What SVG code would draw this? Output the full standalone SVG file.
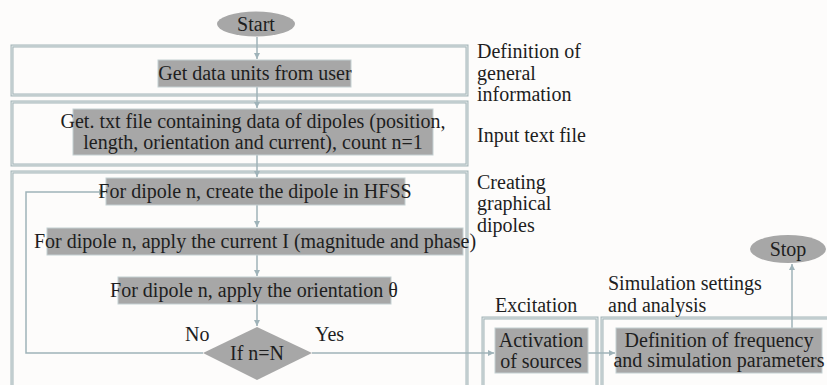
<svg xmlns="http://www.w3.org/2000/svg" width="827" height="385" viewBox="0 0 827 385">
<style>
text{font-size:20px;fill:#1e1e1e}
.c{text-anchor:middle}
.frame{fill:none;stroke:#a3b4b8;stroke-width:3}
.frameIn{fill:none;stroke:#eef2f2;stroke-width:0.8}
.box{fill:#a7a7a7;stroke:#c4cfd2;stroke-width:1}
.conn{fill:none;stroke:#9fb3b9;stroke-width:1.5}
</style>
<defs>
<marker id="ah" markerWidth="8" markerHeight="8" refX="6" refY="4" orient="auto" markerUnits="userSpaceOnUse">
<path d="M0,1 L6,4 L0,7 Z" fill="#9fb3b9"/>
</marker>
</defs>
<rect width="827" height="385" fill="#fdfcfb"/>
<g id="frames">
<rect class="frame" x="12" y="46" width="455" height="49"/>
<rect class="frameIn" x="12" y="46" width="455" height="49"/>
<rect class="frame" x="12" y="102" width="455" height="63"/>
<rect class="frameIn" x="12" y="102" width="455" height="63"/>
<rect class="frame" x="12" y="172" width="455" height="230"/>
<rect class="frameIn" x="12" y="172" width="455" height="230"/>
<rect class="frame" x="483" y="318" width="114" height="90"/>
<rect class="frameIn" x="483" y="318" width="114" height="90"/>
<rect class="frame" x="602" y="318" width="240" height="90"/>
<rect class="frameIn" x="602" y="318" width="240" height="90"/>
</g>
<g id="connectors">
<line class="conn" x1="257" y1="37" x2="257" y2="59" marker-end="url(#ah)"/>
<line class="conn" x1="257" y1="87" x2="257" y2="108" marker-end="url(#ah)"/>
<line class="conn" x1="257" y1="155" x2="257" y2="177" marker-end="url(#ah)"/>
<line class="conn" x1="257" y1="205" x2="257" y2="227" marker-end="url(#ah)"/>
<line class="conn" x1="257" y1="255" x2="257" y2="276" marker-end="url(#ah)"/>
<line class="conn" x1="257" y1="304" x2="257" y2="326" marker-end="url(#ah)"/>
<polyline class="conn" points="203,353 26,353 26,192 105,192" marker-end="url(#ah)"/>
<line class="conn" x1="312" y1="353" x2="494" y2="353" marker-end="url(#ah)"/>
<line class="conn" x1="588" y1="353" x2="615" y2="353" marker-end="url(#ah)"/>
<line class="conn" x1="792" y1="328" x2="792" y2="264" marker-end="url(#ah)"/>
</g>
<g font-family="Liberation Serif, Times New Roman, serif">
<g id="start">
<ellipse cx="256" cy="24" rx="39" ry="12.5" fill="#a7a7a7"/>
<text class="c" x="256" y="31">Start</text>
</g>
<g id="get-units">
<rect class="box" x="158" y="60" width="193" height="27"/>
<text class="c" x="255" y="80">Get data units from user</text>
</g>
<g id="get-file">
<rect class="box" x="73" y="109" width="360" height="46"/>
<text class="c" x="253" y="128">Get. txt file containing data of dipoles (position,</text>
<text class="c" x="253" y="149">length, orientation and current), count n=1</text>
</g>
<g id="create-dipole">
<rect class="box" x="106" y="178" width="299" height="27"/>
<text class="c" x="255" y="198">For dipole n, create the dipole in HFSS</text>
</g>
<g id="apply-current">
<rect class="box" x="47" y="228" width="416" height="27"/>
<text class="c" x="255" y="248">For dipole n, apply the current I (magnitude and phase)</text>
</g>
<g id="apply-orientation">
<rect class="box" x="118" y="277" width="273" height="27"/>
<text class="c" x="254" y="297">For dipole n, apply the orientation θ</text>
</g>
<g id="decision">
<polygon points="257,327 312,353 257,380 203,353" fill="#a7a7a7"/>
<text class="c" x="257" y="360">If n=N</text>
<text x="185" y="341">No</text>
<text x="315" y="341">Yes</text>
</g>
<g id="activation">
<rect class="box" x="495" y="328" width="93" height="45"/>
<text class="c" x="541" y="347">Activation</text>
<text class="c" x="541" y="368">of sources</text>
</g>
<g id="definition">
<rect class="box" x="616" y="328" width="206" height="45"/>
<text class="c" x="719" y="347">Definition of frequency</text>
<text class="c" x="719" y="367">and simulation parameters</text>
</g>
<g id="stop">
<ellipse cx="788" cy="249" rx="38" ry="14" fill="#a7a7a7"/>
<text class="c" x="788" y="256">Stop</text>
</g>
<g id="labels">
<text x="477" y="58">Definition of</text>
<text x="477" y="80">general</text>
<text x="477" y="101">information</text>
<text x="477" y="142">Input text file</text>
<text x="477" y="189">Creating</text>
<text x="477" y="210">graphical</text>
<text x="477" y="232">dipoles</text>
<text x="495" y="312">Excitation</text>
<text x="608" y="290">Simulation settings</text>
<text x="608" y="312">and analysis</text>
</g>
</g>
</svg>
